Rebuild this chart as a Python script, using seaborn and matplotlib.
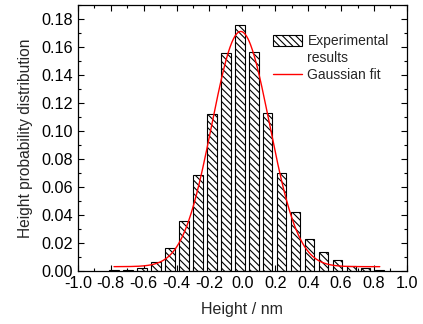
import numpy as np
import pandas as pd
import matplotlib
matplotlib.use("Agg")
import matplotlib.pyplot as plt
import seaborn as sns
from matplotlib.patches import Patch
from matplotlib.lines import Line2D
from matplotlib.ticker import MultipleLocator, FormatStrFormatter

# гистограмма высот (центры бинов, nm) и доли
bin_centers = [-0.780, -0.695, -0.610, -0.525, -0.440, -0.355, -0.270, -0.185, -0.100, -0.015,
               0.070, 0.155, 0.240, 0.325, 0.410, 0.495, 0.580, 0.665, 0.750, 0.835]
probability = [0.0003, 0.0005, 0.0024, 0.0062, 0.0162, 0.0357, 0.0686, 0.1120, 0.1557, 0.1755,
               0.1562, 0.1126, 0.0700, 0.0419, 0.0231, 0.0136, 0.0076, 0.0038, 0.0017, 0.0005]

# параметры гауссовой аппроксимации
fit_y0 = 0.003
fit_xc = -0.01
fit_sigma = 0.175
fit_amp = 0.168
fit_range = (-0.78, 0.835)

sns.set_theme(style="ticks")
plt.rcParams['font.family'] = ['Liberation Sans', 'DejaVu Sans']
plt.rcParams['axes.unicode_minus'] = False
plt.rcParams['hatch.linewidth'] = 0.8

df = pd.DataFrame({"height": bin_centers, "prob": probability})

fig = plt.figure(figsize=(4.23, 3.24), dpi=100)
ax = fig.add_axes([0.184, 0.164, 0.778, 0.821])

sns.barplot(data=df, x="height", y="prob", native_scale=True, width=0.66,
            color="white", edgecolor="black", linewidth=0.8,
            hatch="\\\\\\\\\\", ax=ax, errorbar=None)

xf = np.linspace(fit_range[0], fit_range[1], 400)
yf = fit_y0 + fit_amp * np.exp(-(xf - fit_xc) ** 2 / (2 * fit_sigma ** 2))
sns.lineplot(x=xf, y=yf, color="red", linewidth=1.0, ax=ax)

ax.set_xlim(-1.0, 1.0)
ax.set_ylim(0, 0.19)
ax.xaxis.set_major_locator(MultipleLocator(0.2))
ax.xaxis.set_minor_locator(MultipleLocator(0.1))
ax.yaxis.set_major_locator(MultipleLocator(0.02))
ax.yaxis.set_minor_locator(MultipleLocator(0.01))
ax.xaxis.set_major_formatter(FormatStrFormatter('%.1f'))
ax.yaxis.set_major_formatter(FormatStrFormatter('%.2f'))
ax.tick_params(which="both", direction="in", top=True, right=True,
               labelsize=11.7, width=0.8, colors="black")
ax.tick_params(which="major", length=4)
ax.tick_params(which="minor", length=2)
for s in ax.spines.values():
    s.set_linewidth(0.9)
    s.set_color("black")

ax.set_xlabel("Height / nm", fontsize=11.5, labelpad=8)
ax.set_ylabel("Height probability distribution", fontsize=11.2, labelpad=6)

# легенда: подпись "results" на второй строке без маркера
handles = [Patch(facecolor="white", edgecolor="black", hatch="\\\\\\\\\\", linewidth=0.8),
           Line2D([], [], color="none"),
           Line2D([0], [0], color="red", linewidth=1.0)]
ax.legend(handles, ["Experimental", "results", "Gaussian fit"], loc="upper left",
          bbox_to_anchor=(0.592, 0.89), frameon=False, fontsize=10,
          borderpad=0, borderaxespad=0,
          handlelength=2.1, handleheight=0.8, handletextpad=0.4, labelspacing=0.22)

fig.savefig("out.png", dpi=100)
